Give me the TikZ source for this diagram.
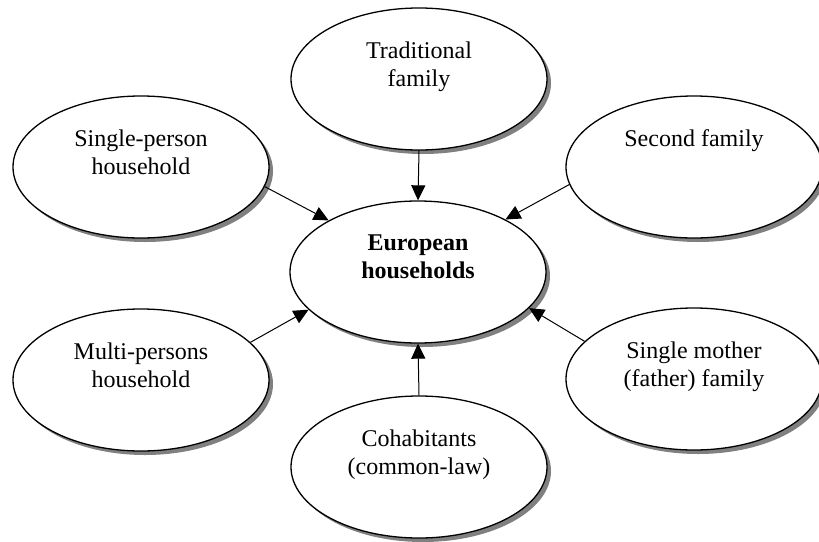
\documentclass[tikz,border=0pt]{standalone}
\usepackage{fontspec}
\setmainfont{Liberation Serif}
\usetikzlibrary{shapes.geometric,shadows,arrows.meta}

\tikzset{
  house/.style={ellipse, draw, line width=1.3pt, fill=white,
    minimum width=256pt, minimum height=142pt,
    drop shadow={shadow xshift=4pt, shadow yshift=-4pt, fill=black!50, opacity=1}},
  housetext/.style={anchor=north, align=center, inner sep=0pt,
    font=\fontsize{24}{28}\selectfont},
  feed/.style={line width=1pt, -{Triangle[length=15pt,width=14pt]}}
}

\begin{document}
\begin{tikzpicture}[x=1pt,y=-1pt]
\useasboundingbox (0,0) rectangle (819,541);
%%%%%DRAW ELLIPSES%%%%%%%%%
\node[house] (trad) at (419,79) {};
\node[house] (single) at (141,167) {};
\node[house] (second) at (694,167) {};
\node[house] (europe) at (418,272) {};
\node[house] (multi) at (141,380) {};
\node[house] (cohab) at (419,467) {};
\node[house] (mother) at (694,379) {};

%%%%%DRAW TEXTS%%%%%%%
\node[housetext] (tradtext) at ([yshift=-34pt]trad.north) {Traditional\\family};
\node[housetext] (singletext) at ([yshift=-34pt]single.north) {Single-person\\household};
\node[housetext] (secondtext) at ([yshift=-34pt]second.north) {Second family};
\node[housetext, font=\fontsize{24}{28}\selectfont\bfseries] (europetext) at ([yshift=-34pt]europe.north) {European\\households};
\node[housetext] (multitext) at ([yshift=-34pt]multi.north) {Multi-persons\\household};
\node[housetext] (cohabtext) at ([yshift=-34pt]cohab.north) {Cohabitants\\(common-law)};
\node[housetext] (mothertext) at ([yshift=-34pt]mother.north) {Single mother\\(father) family};

%%%%%DRAW ARROWS%%%%%%%
\draw[feed] (single.-9) -- (europe.150);
\draw[feed] (trad.south) -- (europe.north);
\draw[feed] (second.-172) -- (europe.31);
\draw[feed] (multi.19) -- (europe.-161);
\draw[feed] (cohab.north) -- (europe.south);
\draw[feed] (mother.161) -- (europe.-18);

\end{tikzpicture}
\end{document}
